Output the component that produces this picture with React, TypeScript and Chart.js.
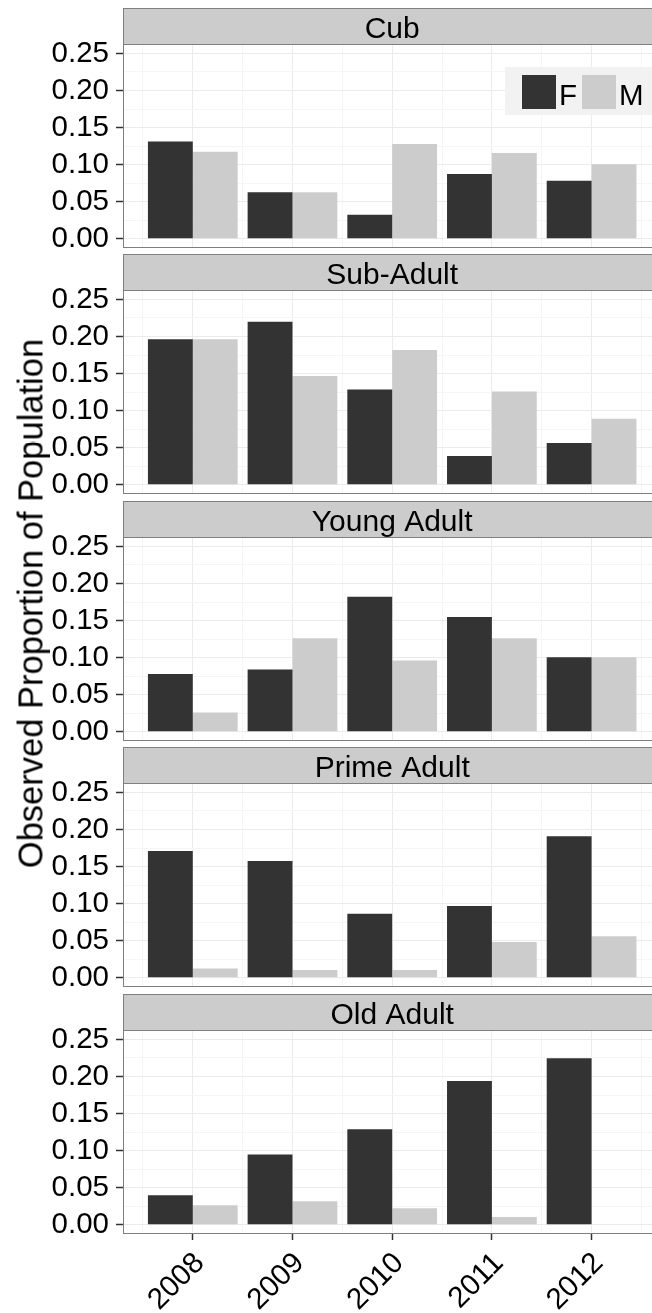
import React, { useEffect, useRef } from 'react';
import { Chart, registerables } from 'chart.js';

Chart.register(...registerables);

// ---------- data ----------
const years = ['2008', '2009', '2010', '2011', '2012'];
const stages = ['Cub', 'Sub-Adult', 'Young Adult', 'Prime Adult', 'Old Adult'];
const sexes = ['F', 'M'];

const cubF = [0.131, 0.0625, 0.0323, 0.0872, 0.0782];
const cubM = [0.1174, 0.0625, 0.1277, 0.1156, 0.1003];
const subAdultF = [0.1961, 0.2199, 0.1284, 0.0386, 0.0561];
const subAdultM = [0.1961, 0.1468, 0.1818, 0.1257, 0.0889];
const youngAdultF = [0.0779, 0.0838, 0.1821, 0.1549, 0.1005];
const youngAdultM = [0.0258, 0.1259, 0.096, 0.1259, 0.1005];
const primeAdultF = [0.171, 0.1574, 0.0862, 0.0966, 0.191];
const primeAdultM = [0.0122, 0.0104, 0.0104, 0.0481, 0.0558];
const oldAdultF = [0.0398, 0.0947, 0.1286, 0.1938, 0.2247];
const oldAdultM = [0.0262, 0.0317, 0.0222, 0.0104, 0];

const seriesF = [cubF, subAdultF, youngAdultF, primeAdultF, oldAdultF];
const seriesM = [cubM, subAdultM, youngAdultM, primeAdultM, oldAdultM];

const yMajorTicks = [0, 0.05, 0.1, 0.15, 0.2, 0.25];
const yMinorTicks = [0.025, 0.075, 0.125, 0.175, 0.225];
const xMinorTicks = [-0.5, 0.5, 1.5, 2.5, 3.5, 4.5];

const yTitle = 'Observed Proportion of Population';

// ---------- layout / style ----------
const W = 652;
const STRIP_H = 37;
const PANEL_H = 202;
const Y_AXIS_W = 123;
const BOTTOM_AXIS_H = 80;
const stripTops = [8, 254, 501, 747, 994];
const X_MIN = -0.7;
const X_MAX = 4.606;
const X_FULL = 4.7;
const Y_MIN = -0.0113;
const Y_MAX = 0.2614;
const FONT = '"Liberation Sans", Arial, Helvetica, sans-serif';
const colF = '#333333';
const colM = '#cccccc';
const gridMajor = '#ebebeb';
const gridMinor = '#f5f5f5';
const borderCol = '#7f7f7f';

const isMajor = (v: number) => yMajorTicks.some((t) => Math.abs(t - v) < 1e-6);

function Panel({ index }: { index: number }) {
  const ref = useRef<HTMLCanvasElement | null>(null);
  const isLast = index === stages.length - 1;
  const h = STRIP_H + PANEL_H + (isLast ? BOTTOM_AXIS_H : 3);

  useEffect(() => {
    if (!ref.current) return;
    const stripPlugin = {
      id: 'strip' + index,
      afterDraw(chart: any) {
        const { ctx, chartArea } = chart;
        const xs = chart.scales.x;
        const left = chartArea.left;
        const right = xs.getPixelForValue(X_FULL);
        const top = chartArea.top - STRIP_H;
        ctx.save();
        ctx.fillStyle = '#cccccc';
        ctx.fillRect(left, top, W + 20 - left, STRIP_H);
        ctx.strokeStyle = borderCol;
        ctx.lineWidth = 1;
        ctx.strokeRect(left + 0.5, top + 0.5, W + 20, STRIP_H - 1);
        ctx.fillStyle = '#000000';
        ctx.font = `30px ${FONT}`;
        ctx.textAlign = 'center';
        ctx.textBaseline = 'alphabetic';
        ctx.fillText(stages[index], (left + right) / 2, top + 30);
        ctx.restore();
      },
    };
    const legendPlugin = {
      id: 'facetLegend',
      afterDatasetsDraw(chart: any) {
        if (index !== 0) return;
        const { ctx, chartArea } = chart;
        const t = chartArea.top;
        const r = chartArea.right;
        ctx.save();
        ctx.fillStyle = '#f2f2f2';
        ctx.fillRect(r - 147, t + 22, 147, 48);
        ctx.font = `29.5px ${FONT}`;
        ctx.textAlign = 'left';
        ctx.textBaseline = 'alphabetic';
        chart.data.datasets.forEach((ds: any, i: number) => {
          const kx = r - 130 + i * 60;
          ctx.fillStyle = ds.backgroundColor;
          ctx.fillRect(kx, t + 30, 34, 34);
          ctx.fillStyle = '#000000';
          ctx.fillText(ds.label, kx + 37, t + 60);
        });
        ctx.restore();
      },
    };

    const zeroPad = (s: any) => {
      s.paddingLeft = 0;
      s.paddingRight = 0;
      s.paddingTop = 0;
      s.paddingBottom = 0;
    };

    const chart = new Chart(ref.current, {
      type: 'bar',
      data: {
        datasets: [
          {
            label: sexes[0],
            data: years.map((_, i) => ({ x: i, y: seriesF[index][i] })),
            backgroundColor: colF,
            borderWidth: 0,
            categoryPercentage: 0.9,
            barPercentage: 1.0,
          },
          {
            label: sexes[1],
            data: years.map((_, i) => ({ x: i, y: seriesM[index][i] })),
            backgroundColor: colM,
            borderWidth: 0,
            categoryPercentage: 0.9,
            barPercentage: 1.0,
          },
        ],
      },
      options: {
        responsive: false,
        animation: false,
        devicePixelRatio: 1,
        layout: { padding: { top: STRIP_H, left: 0, right: 0, bottom: 0 } },
        plugins: { legend: { display: false }, tooltip: { enabled: false } },
        scales: {
          x: {
            type: 'linear',
            position: 'bottom',
            offset: false,
            min: X_MIN,
            max: X_MAX,
            bounds: 'data',
            afterBuildTicks: (s: any) => {
              s.ticks = years.map((_, i) => ({ value: i }));
            },
            ticks: {
              display: isLast,
              autoSkip: false,
              minRotation: 45,
              maxRotation: 45,
              padding: 6,
              labelOffset: 7,
              color: '#000000',
              font: { family: FONT, size: 29.5 },
              callback: (v: any) => years[Math.round(Number(v))] ?? '',
            },
            grid: {
              offset: false,
              color: gridMajor,
              lineWidth: 1,
              drawTicks: isLast,
              tickLength: 7,
              tickColor: '#333333',
              tickWidth: 1.5,
            },
            border: { display: true, color: borderCol, width: 1 },
            afterFit: (s: any) => {
              s.height = isLast ? BOTTOM_AXIS_H : 3;
              zeroPad(s);
            },
          },
          xm: {
            type: 'linear',
            position: 'bottom',
            offset: false,
            min: X_MIN,
            max: X_MAX,
            bounds: 'data',
            afterBuildTicks: (s: any) => {
              s.ticks = xMinorTicks.map((v) => ({ value: v }));
            },
            ticks: { display: false },
            grid: { offset: false, color: gridMinor, lineWidth: 1, drawTicks: false },
            border: { display: false },
            afterFit: (s: any) => {
              s.height = 0;
              zeroPad(s);
            },
          },
          y: {
            type: 'linear',
            position: 'left',
            min: Y_MIN,
            max: Y_MAX,
            bounds: 'data',
            afterBuildTicks: (s: any) => {
              s.ticks = [...yMajorTicks, ...yMinorTicks]
                .sort((a, b) => a - b)
                .map((v) => ({ value: v }));
            },
            ticks: {
              autoSkip: false,
              padding: 7,
              color: '#000000',
              font: { family: FONT, size: 29.5 },
              callback: (v: any) => (isMajor(Number(v)) ? Number(v).toFixed(2) : ''),
            },
            grid: {
              color: (c: any) => (c.tick && isMajor(c.tick.value) ? gridMajor : gridMinor),
              lineWidth: 1,
              drawTicks: true,
              tickLength: 7,
              tickWidth: 1.5,
              tickColor: (c: any) =>
                c.tick && isMajor(c.tick.value) ? '#333333' : 'rgba(0,0,0,0)',
            },
            border: { display: true, color: borderCol, width: 1 },
            afterFit: (s: any) => {
              s.width = Y_AXIS_W;
              zeroPad(s);
            },
          },
        },
      } as any,
      plugins: [stripPlugin, legendPlugin],
    });
    return () => chart.destroy();
  }, [index]);

  return (
    <canvas
      ref={ref}
      width={W}
      height={h}
      style={{ position: 'absolute', left: 0, top: stripTops[index], width: W, height: h }}
    />
  );
}

export default function App() {
  const titleW = 700;
  const titleH = 37;
  const cx = 31;
  const cy = 603;
  return (
    <div
      style={{
        position: 'absolute',
        left: 0,
        top: 0,
        width: W,
        height: 1313,
        background: '#ffffff',
        overflow: 'hidden',
      }}
    >
      {stages.map((_, i) => (
        <Panel key={i} index={i} />
      ))}
      <div
        style={{
          position: 'absolute',
          left: cx - titleW / 2,
          top: cy - titleH / 2,
          width: titleW,
          height: titleH,
          lineHeight: `${titleH}px`,
          fontSize: 34.5,
          fontFamily: FONT,
          color: '#000000',
          textAlign: 'center',
          whiteSpace: 'nowrap',
          transform: 'rotate(-90deg)',
          transformOrigin: '50% 50%',
          pointerEvents: 'none',
        }}
      >
        {yTitle}
      </div>
    </div>
  );
}
